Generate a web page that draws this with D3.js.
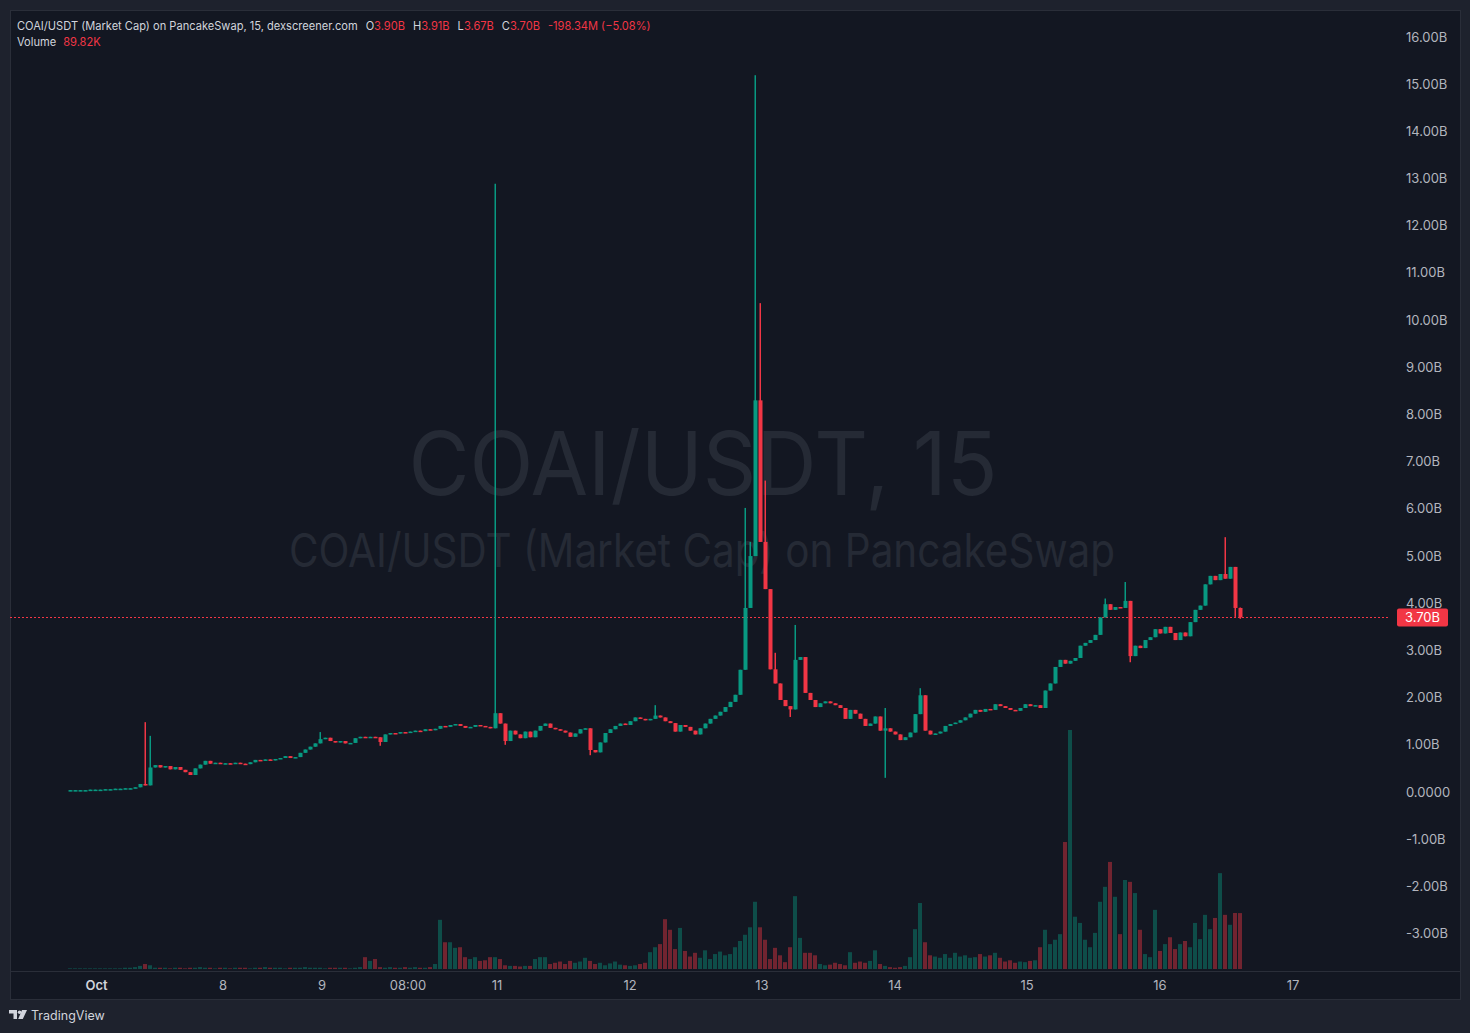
<!DOCTYPE html>
<html><head><meta charset="utf-8">
<script src="https://cdn.jsdelivr.net/npm/d3@7"></script>
<style>
html,body{margin:0;padding:0;background:#1e222d;}
svg{display:block;}
text{font-family:Inter,"Noto Sans",Roboto,sans-serif;}
</style>
</head><body>
<svg id="c" width="1470" height="1033"></svg>
<script>
// ---------- DATA ----------
const closes = [
 0.04,0.04,0.04,0.04,0.05,0.05,0.05,0.06,0.06,0.07,0.07,0.08,0.08,0.10,
 0.17,0.14,0.52,
 0.57,0.52,0.55,0.48,0.53,0.47,0.42,0.36,0.50,0.58,0.66,
 0.60,0.62,0.60,0.61,0.60,0.62,0.60,0.59,0.63,0.68,0.66,0.69,0.67,
 0.70,0.72,0.76,0.72,0.74,0.83,0.90,0.96,1.03,
 1.12,1.15,1.08,1.05,1.08,1.03,1.04,1.14,1.17,
 1.15,1.17,1.16,1.06,1.22,1.25,1.24,1.27,1.25,1.28,
 1.30,1.29,1.33,1.31,1.34,1.40,1.38,1.42,1.44,1.40,1.36,1.38,1.42,1.40,1.38,1.35,
 1.67,1.45,1.08,1.30,1.22,1.14,1.28,1.16,1.30,1.40,1.45,1.36,1.33,1.30,1.26,1.17,1.24,1.33,1.35,
 0.89,0.84,1.05,1.25,1.33,1.40,1.45,1.42,1.50,1.58,1.55,1.52,1.55,
 1.62,1.58,1.50,1.46,1.28,1.42,1.38,1.30,1.22,1.35,1.45,1.55,1.62,1.70,1.80,1.91,2.06,
 2.59,3.90,5.00,8.30,5.30,4.30,2.60,2.30,1.95,1.82,1.75,
 2.80,2.86,2.10,1.95,1.80,1.88,1.92,1.88,1.84,1.78,
 1.55,1.74,1.66,1.55,1.40,1.45,1.60,1.30,1.35,1.28,1.22,1.10,1.16,1.26,
 1.65,2.05,1.30,1.22,1.24,1.28,1.40,1.44,1.47,1.52,1.58,1.66,
 1.74,1.70,1.76,1.74,1.86,1.82,1.78,1.74,1.72,1.78,1.86,1.82,1.84,1.78,
 2.15,2.30,2.65,2.80,2.72,2.78,2.84,3.10,3.16,3.22,3.33,
 3.70,3.98,3.86,3.92,3.90,4.05,2.88,3.10,3.05,3.22,3.28,
 3.45,3.36,3.50,3.37,3.22,3.38,3.30,3.60,3.86,3.95,
 4.40,4.58,4.49,4.62,4.52,4.77,3.90,3.70
];
// volume in thousands
const volumes = [
 1,1,1,1,1,1,1,1,1,1,1,2,2,3,
 5,8,6,
 2,2,2,1,2,2,1,2,2,3, 2,2,1,2,2,1,2,2,2,1, 2,2,3,2,2,2,1,2,2,2, 3,2,2,2,1,2,2,2,2,1, 2,3,
 19,13,16,3,2,3,2,2,3,2,3,2,2,3,8,
 79,43,43,34,35,19,16,19,13,14,19,19,16,6,
 5,5,4,5,5,16,19,19,8,10,12,8,13,10,12,
 18,13,8,10,6,9,12,7,6,5,6,8,10,
 27,35,40,80,63,32,66,29,20,26,18,30,16,24,28,22,24,35,
 45,55,67,108,67,47,16,34,22,11,35,117,50,26,26,22,
 8,6,7,10,8,6,27,10,12,10,13,30,8,5,3,2,3,5,
 19,64,106,43,22,20,18,24,18,26,20,22,18,19,24,20,22,26,18,12,14,10,12,11,13,14,
 35,63,40,47,56,204,384,84,74,47,35,58,108,132,172,116,56,143,140,122,63,
 24,19,95,29,40,51,32,40,45,35,74,48,87,64,82,154,87,71,90,89.82
];
// sparse wick extremes [candle index, value in B]
const wickHighs = [[15,1.48],[16,1.19],[50,1.27],[85,12.89],[86,1.62],[117,1.84],[135,6.02],[136,5.3],
 [137,15.19],[138,10.36],[139,6.6],[141,2.95],[145,3.54],[163,1.78],[170,2.20],[207,4.10],[211,4.45],[231,5.40],[234,3.91]];
const wickLows = [[62,0.98],[87,1.00],[104,0.78],[137,5.0],[144,1.59],[163,0.30],[212,2.75],[233,3.71],[234,3.67]];
const priceTicks = d3.range(-3, 17, 1);
const timeTicks = [
 {i:5.3,label:"Oct",bold:true},{i:30.6,label:"8"},{i:50.4,label:"9"},{i:67.6,label:"08:00"},
 {i:85.4,label:"11"},{i:112,label:"12"},{i:138.4,label:"13"},{i:165,label:"14"},
 {i:191.4,label:"15"},{i:218,label:"16"},{i:244.6,label:"17"}
];
const lastPrice = 3.70;
const legend = {title:"COAI/USDT (Market Cap) on PancakeSwap, 15, dexscreener.com",
  o:"3.90B",h:"3.91B",l:"3.67B",c:"3.70B",chg:"-198.34M (\u22125.08%)",vol:"89.82K"};

// ---------- LAYOUT ----------
const W=1470,H=1033;
const plot={x0:10,x1:1390,y0:10,y1:971};
const UP="#089981", DOWN="#f23645";
const svg=d3.select("#c");
svg.append("rect").attr("width",W).attr("height",H).attr("fill","#1e222d");
svg.append("rect").attr("x",10.5).attr("y",10.5).attr("width",1450).attr("height",989)
  .attr("fill","#131722").attr("stroke","#2a2e39");
svg.append("line").attr("x1",10).attr("x2",1460).attr("y1",971.5).attr("y2",971.5).attr("stroke","#2a2e39");

const defs=svg.append("defs");
defs.append("clipPath").attr("id","clip").append("rect")
  .attr("x",plot.x0).attr("y",plot.y0).attr("width",plot.x1-plot.x0).attr("height",plot.y1-plot.y0);

const x=d3.scaleLinear().domain([-12,264]).range([plot.x0,plot.x1]);
const y=d3.scaleLinear().domain([0,16]).range([792,37]);
const yv=d3.scaleLinear().domain([0,400]).range([969,720]);

const g=svg.append("g").attr("clip-path","url(#clip)");

// watermark
g.append("text").attr("x",703).attr("y",495).attr("text-anchor","middle")
  .attr("font-size",88).attr("fill","#252a35").attr("textLength",589).attr("lengthAdjust","spacingAndGlyphs")
  .text("COAI/USDT, 15");
g.append("text").attr("x",702).attr("y",567).attr("text-anchor","middle")
  .attr("font-size",47).attr("fill","#252a35").attr("textLength",826).attr("lengthAdjust","spacingAndGlyphs")
  .text("COAI/USDT (Market Cap) on PancakeSwap");

// build candles
const hiMap=new Map(wickHighs), loMap=new Map(wickLows);
const candles=closes.map((c,i)=>{
  const o = i===0 ? c : closes[i-1];
  const h = Math.max(o,c, hiMap.has(i)?hiMap.get(i):-Infinity);
  const l = Math.min(o,c, loMap.has(i)?loMap.get(i):Infinity);
  return {i,o,h,l,c,v:volumes[i]||0,up:c>=o};
});

// volume
g.append("g").selectAll("rect").data(candles).join("rect")
  .attr("x",d=>Math.round(x(d.i))-2).attr("width",4)
  .attr("y",d=>yv(d.v)).attr("height",d=>Math.max(0.5,yv(0)-yv(d.v)))
  .attr("fill",d=>d.up?UP:DOWN).attr("opacity",0.42);

// current price line
g.append("line").attr("x1",plot.x0).attr("x2",plot.x1)
  .attr("y1",Math.round(y(lastPrice))+0.5).attr("y2",Math.round(y(lastPrice))+0.5)
  .attr("stroke",DOWN).attr("stroke-width",1.2).attr("stroke-dasharray","2,2");

// candles
const cg=g.append("g");
cg.selectAll("rect.w").data(candles).join("rect").attr("class","w")
  .attr("x",d=>Math.round(x(d.i))-0.5).attr("width",1.5)
  .attr("y",d=>y(d.h)).attr("height",d=>Math.max(1,y(d.l)-y(d.h)))
  .attr("fill",d=>d.up?UP:DOWN);
cg.selectAll("rect.b").data(candles).join("rect").attr("class","b")
  .attr("x",d=>Math.round(x(d.i))-1.5).attr("width",4)
  .attr("y",d=>y(Math.max(d.o,d.c)))
  .attr("height",d=>Math.max(1.5,Math.abs(y(d.o)-y(d.c))))
  .attr("fill",d=>d.up?UP:DOWN);

// price axis
const pa=svg.append("g");
pa.selectAll("text").data(priceTicks).join("text")
  .attr("x",1406).attr("y",d=>y(d)+4.5).attr("font-size",13).attr("fill","#b2b5be")
  .text(d=>d===0?"0.0000":d.toFixed(2)+"B");
const py=y(lastPrice);
pa.append("rect").attr("x",1397).attr("y",py-9).attr("width",51).attr("height",18).attr("rx",2).attr("fill",DOWN);
pa.append("text").attr("x",1422.5).attr("y",py+4.5).attr("text-anchor","middle")
  .attr("font-size",13).attr("fill","#ffffff").text(lastPrice.toFixed(2)+"B");

// time axis
svg.append("g").selectAll("text").data(timeTicks).join("text")
  .attr("x",d=>x(d.i)).attr("y",990).attr("text-anchor","middle").attr("font-size",13)
  .attr("font-weight",d=>d.bold?600:400).attr("fill",d=>d.bold?"#d1d4dc":"#b2b5be")
  .text(d=>d.label);

// legend
const lg=svg.append("text").attr("x",17).attr("y",30).attr("font-size",11.1).attr("fill","#d1d4dc");
lg.append("tspan").text(legend.title);
[["O",legend.o],["H",legend.h],["L",legend.l],["C",legend.c]].forEach(([k,v])=>{
  lg.append("tspan").attr("dx",8).attr("fill","#d1d4dc").text(k);
  lg.append("tspan").attr("fill",DOWN).text(v);
});
lg.append("tspan").attr("dx",8).attr("fill",DOWN).text(legend.chg);
const lv=svg.append("text").attr("x",17).attr("y",46).attr("font-size",11.1).attr("fill","#d1d4dc");
lv.append("tspan").text("Volume");
lv.append("tspan").attr("dx",7).attr("fill",DOWN).text(legend.vol);

// TradingView logo
const logo=svg.append("g").attr("fill","#d1d4dc");
logo.append("path").attr("d","M9 1010h8v9h-3.5v-5.5H9z");
logo.append("circle").attr("cx",19.6).attr("cy",1012.2).attr("r",1.8);
logo.append("path").attr("d","M22 1010h5l-4.2 9h-4.6z");
svg.append("text").attr("x",31).attr("y",1020).attr("font-size",12.5).attr("fill","#d1d4dc").text("TradingView");
</script>
</body></html>
